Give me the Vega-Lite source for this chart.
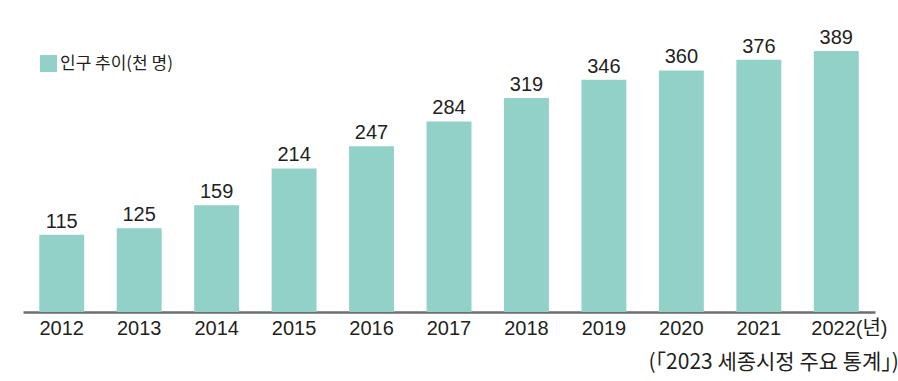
{
  "$schema": "https://vega.github.io/schema/vega-lite/v6.json",
  "width": 852,
  "height": 312,
  "autosize": "none",
  "padding": {"left": 23, "top": 0, "right": 23, "bottom": 69},
  "background": "white",
  "config": {"view": {"stroke": null}},
  "title": {
    "text": "(「2023 세종시정 주요 통계」)",
    "orient": "bottom",
    "anchor": "end",
    "font": "Noto Sans CJK KR",
    "fontSize": 21,
    "fontWeight": "normal",
    "color": "#231f20",
    "offset": 14,
    "dx": 12
  },
  "data": {
    "values": [
      {"year": "2012", "value": 115, "series": "인구 추이(천 명)"},
      {"year": "2013", "value": 125, "series": "인구 추이(천 명)"},
      {"year": "2014", "value": 159, "series": "인구 추이(천 명)"},
      {"year": "2015", "value": 214, "series": "인구 추이(천 명)"},
      {"year": "2016", "value": 247, "series": "인구 추이(천 명)"},
      {"year": "2017", "value": 284, "series": "인구 추이(천 명)"},
      {"year": "2018", "value": 319, "series": "인구 추이(천 명)"},
      {"year": "2019", "value": 346, "series": "인구 추이(천 명)"},
      {"year": "2020", "value": 360, "series": "인구 추이(천 명)"},
      {"year": "2021", "value": 376, "series": "인구 추이(천 명)"},
      {"year": "2022", "value": 389, "series": "인구 추이(천 명)"}
    ]
  },
  "encoding": {
    "x": {
      "field": "year",
      "type": "ordinal",
      "scale": {"paddingInner": 0.42, "paddingOuter": 0.21},
      "axis": {
        "title": null,
        "labelAngle": 0,
        "ticks": false,
        "domainColor": "#6d6e71",
        "domainWidth": 2.5,
        "labelFont": "Liberation Sans Narrow, Liberation Sans, Noto Sans CJK KR",
        "labelFontSize": 20,
        "labelColor": "#231f20",
        "labelPadding": 6,
        "labelExpr": "datum.value == '2022' ? '2022(년)' : datum.label",
        "labelAlign": {"condition": {"test": "datum.value == '2022'", "value": "left"}, "value": "center"},
        "labelOffset": {"condition": {"test": "datum.value == '2022'", "value": -25}, "value": 0}
      }
    },
    "y": {
      "field": "value",
      "type": "quantitative",
      "scale": {"domain": [0, 465]},
      "axis": null
    }
  },
  "layer": [
    {
      "mark": {"type": "bar", "color": "#92d1c7"},
      "encoding": {
        "color": {
          "field": "series",
          "type": "nominal",
          "scale": {"range": ["#92d1c7"]},
          "legend": {
            "title": null,
            "orient": "none",
            "legendX": 17,
            "legendY": 55,
            "padding": 0,
            "symbolType": "square",
            "symbolSize": 289,
            "symbolStrokeWidth": 0,
            "symbolOpacity": 1,
            "labelFont": "Noto Sans CJK KR",
            "labelFontSize": 17,
            "labelColor": "#231f20",
            "labelOffset": 3
          }
        }
      }
    },
    {
      "mark": {
        "type": "text",
        "baseline": "alphabetic",
        "dy": -7,
        "font": "Liberation Sans Narrow, Liberation Sans",
        "fontSize": 20,
        "color": "#231f20"
      },
      "encoding": {"text": {"field": "value", "type": "quantitative"}}
    }
  ]
}
